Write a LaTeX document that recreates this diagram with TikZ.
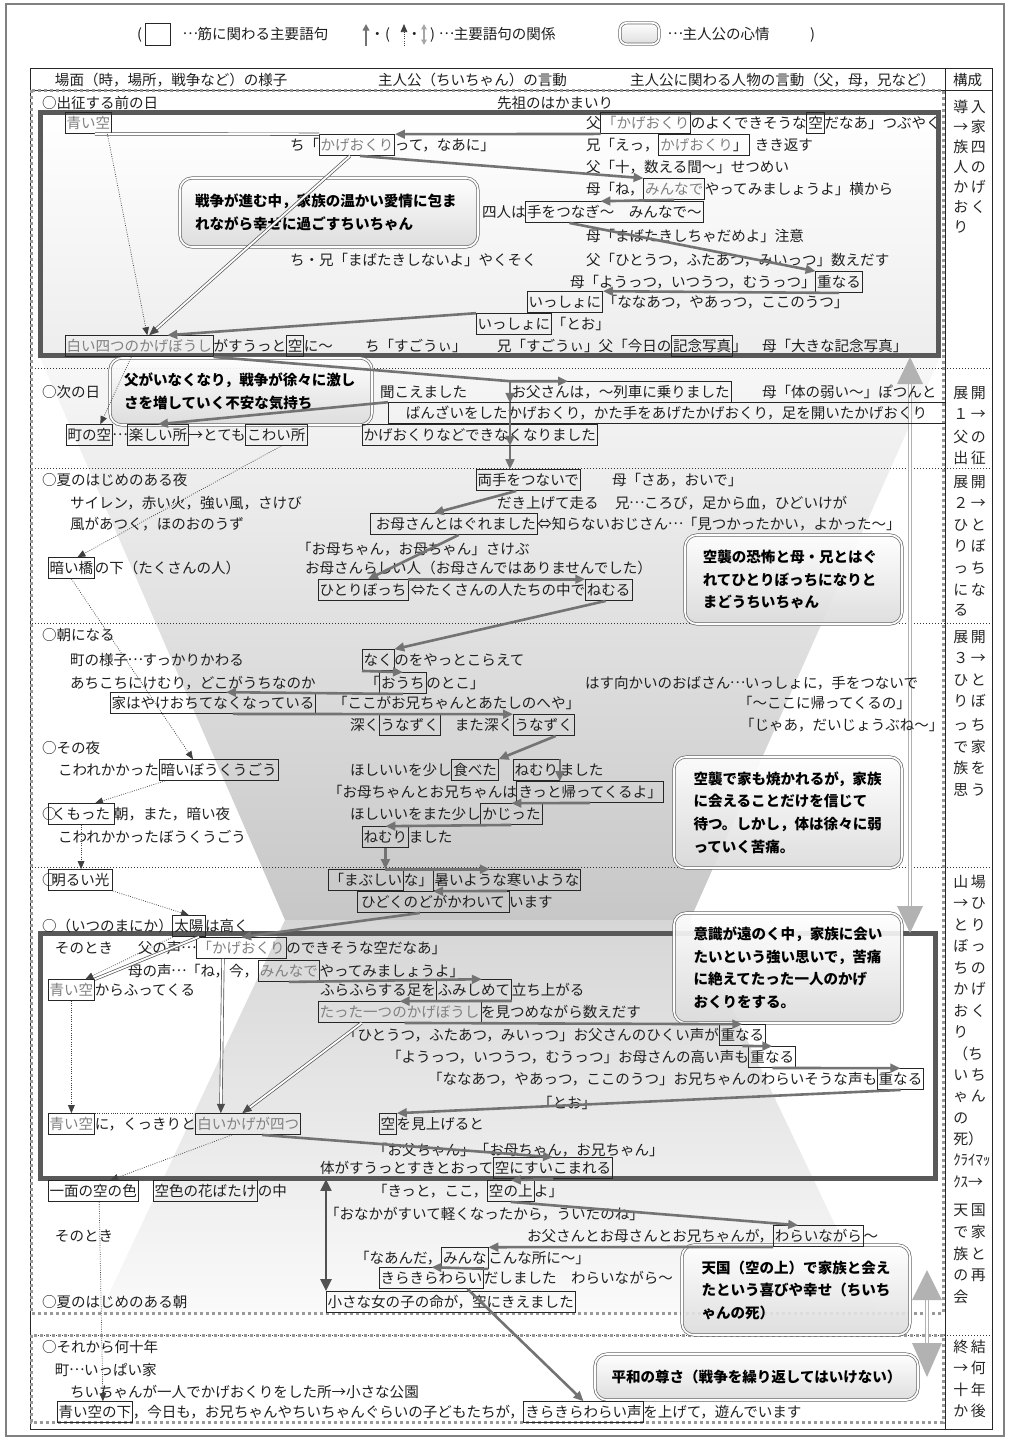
\documentclass[tikz,border=0pt]{standalone}
\usepackage{fontspec}
\setmainfont{Noto Sans CJK JP}
\usetikzlibrary{arrows.meta,calc}
\newcommand\myfs{\fontsize{10.9pt}{13pt}\selectfont}
\newcommand\gk[1]{\textcolor{black!50}{#1}}
\newcommand\rs{\hspace{2pt}}
\newcommand\el{\makebox[1em][c]{\raisebox{0.3em}{…}}}
\begin{document}
\begin{tikzpicture}[x=0.75pt,y=-0.75pt,
  tx/.style={inner xsep=0pt, inner ysep=2.25pt, outer sep=0pt, text height=9.6pt, text depth=2.2pt, anchor=base west, font=\myfs, text=black!88},
  kb/.style={tx, draw=black!85, line width=0.7pt, inner xsep=1.2pt},
  tha/.style={draw=black!55, line width=1.95pt, -{Triangle[length=7.5pt,width=6.5pt]}},
  thab/.style={draw=black!68, line width=2.2pt, {Triangle[length=9pt,width=8pt]}-{Triangle[length=9pt,width=8pt]}},
  dotl/.style={draw=black!75, line width=0.55pt, dash pattern=on 0.6pt off 1.1pt},
  dota/.style={dotl, -{Triangle[length=6pt,width=5pt]}},
  dbl/.style={draw=black!70, line width=0.5pt, double=white, double distance=1.4pt},
  dbla/.style={dbl, -{Triangle[length=7pt,width=6pt]}},
  callout/.style={draw=black!60, line width=0.5pt, double=white, double distance=1.3pt, rounded corners=9pt, top color=white, bottom color=black!14, fill opacity=0.9, text opacity=1, font=\fontsize{10.9pt}{16.9pt}\selectfont\bfseries, align=left, inner sep=0pt, text=black},
  rc/.style={anchor=base west, inner sep=0pt, font=\fontsize{11.2pt}{13pt}\selectfont, text=black!85},
]
\useasboundingbox (0,0) rectangle (1010,1440);
\fill[white] (0,0) rectangle (1010,1440);
\draw[black!50, line width=1.5pt] (6,4) rectangle (1004,1436);

% shadings
\shade[top color=white, bottom color=black!7] (40,112) rectangle (938,355);
\shade[top color=black!3, bottom color=black!22] (40,357) -- (940,357) -- (690,920) -- (285,920) -- cycle;
\shade[top color=black!16, bottom color=black!2] (285,920) -- (690,920) -- (877,1313) -- (100,1313) -- cycle;

% table
\draw[black!85, line width=0.75pt] (30,68) rectangle (992,1429);
\draw[black!85, line width=0.75pt] (945,68) -- (945,1429);
\draw[black!85, line width=0.75pt] (30,90) -- (992,90);
\foreach \yy in {368,468,623,867,1335} \draw[black!80, line width=0.6pt, dash pattern=on 0.75pt off 1.5pt] (32,\yy) -- (992,\yy);
\draw[black!40, line width=2.25pt, dash pattern=on 2.4pt off 2.1pt] (31,90) rectangle (943,1313);
\draw[black!40, line width=2.25pt, dash pattern=on 2.4pt off 2.1pt] (31,1335) rectangle (943,1422);
\draw[black!65, line width=3.75pt] (40,112) rectangle (938,355);
\draw[black!65, line width=3.75pt] (40,933) rectangle (935,1178);

% big light arrows
\coordinate (ba1) at (910,357); \coordinate (ba2) at (910,933);
\draw[black!30, line width=0.9pt, double=white, double distance=1.6pt] ($(ba1)+(0,25)$) -- ($(ba2)+(0,-25)$);
\fill[black!30] (ba1) -- ++(13,27) -- ++(-26,0) -- cycle;
\fill[black!30] (ba2) -- ++(13,-27) -- ++(-26,0) -- cycle;
\coordinate (bb1) at (927,1270); \coordinate (bb2) at (927,1377);
\draw[black!30, line width=0.9pt, double=white, double distance=1.6pt] ($(bb1)+(0,28)$) -- ($(bb2)+(0,-32)$);
\fill[black!30] (bb1) -- ++(15,30) -- ++(-30,0) -- cycle;
\fill[black!30] (bb2) -- ++(15,-34) -- ++(-30,0) -- cycle;

% callouts
\node[callout, minimum width=223.5pt, minimum height=51.75pt, text width=201pt] (cA) at (329,212.5) {戦争が進む中，家族の温かい愛情に包ま\\れながら幸せに過ごすちいちゃん};
\node[callout, minimum width=196.5pt, minimum height=50.25pt, text width=175.5pt] (cB) at (241,391.5) {父がいなくなり，戦争が徐々に激し\\さを増していく不安な気持ち};
\node[callout, minimum width=162.75pt, minimum height=66.75pt, text width=136pt] (cC) at (793.5,579.5) {空襲の恐怖と母・兄とはぐ\\れてひとりぼっちになりと\\まどうちいちゃん};
\node[callout, minimum width=171pt, minimum height=83.25pt, text width=141.75pt] (cD) at (788,812.5) {空襲で家も焼かれるが，家族\\に会えることだけを信じて\\待つ。しかし，体は徐々に弱\\っていく苦痛。};
\node[callout, minimum width=171pt, minimum height=82.5pt, text width=141.75pt] (cE) at (788,968) {意識が遠のく中，家族に会い\\たいという強い思いで，苦痛\\に絶えてたった一人のかげ\\おくりをする。};
\node[callout, minimum width=171pt, minimum height=67.5pt, text width=141.75pt] (cF) at (796,1290) {天国（空の上）で家族と会え\\たという喜びや幸せ（ちいち\\ゃんの死）};
\node[callout, minimum width=242.25pt, minimum height=34.5pt, align=center] (cG) at (756.5,1377) {平和の尊さ（戦争を繰り返してはいけない）};

% legend
\node[tx] (lg1) at (137,39) {(};
\node[draw=black!85, line width=0.7pt, minimum width=18.75pt, minimum height=16.5pt, inner sep=0pt] (lgb) at (157.5,34) {};
\node[tx] (lg2) at (183,39) {\el{}筋に関わる主要語句};
\draw[-{Triangle[length=5pt,width=5pt]}, black!55, line width=1.6pt] (366,46) -- (366,24);
\node[tx] (lg3) at (370,39) {・};
\node[tx] (lg4) at (385,39) {(};
\draw[dota] (404,46) -- (404,24);
\node[tx] (lg5) at (407,39) {・};
\draw[{Triangle[length=4pt,width=4pt]}-{Triangle[length=4pt,width=4pt]}, black!35, line width=1pt] (424,24) -- (424,45);
\node[tx] (lg6) at (430,39) {)\hspace{0.3em}\el{}主要語句の関係};
\node[callout, minimum width=29.25pt, minimum height=16pt, rounded corners=5pt] (lgc) at (639.5,33.5) {};
\node[tx] (lg7) at (668,39) {\el{}主人公の心情};
\node[tx] (lg8) at (810,39) {)};

% header
\node[tx] (h1) at (55,85) {場面（時，場所，戦争など）の様子};
\node[tx] (h2) at (378,85) {主人公（ちいちゃん）の言動};
\node[tx] (h3) at (630,85) {主人公に関わる人物の言動（父，母，兄など）};
\node[tx] (h4) at (953,85) {構成};

% right column
\foreach \t/\y [count=\i] in {導\rs{}入/107, →\rs{}家/127, 族\rs{}四/147, 人\rs{}の/167, か\rs{}げ/187, お\rs{}く/207, り/227,
  展\rs{}開/393, １\rs{}→/414, 父\rs{}の/437, 出\rs{}征/458,
  展\rs{}開/482, ２\rs{}→/503, ひ\rs{}と/525, り\rs{}ぼ/546, っ\rs{}ち/568, に\rs{}な/590, る/610,
  展\rs{}開/637, ３\rs{}→/658, ひ\rs{}と/680, り\rs{}ぼ/701, っ\rs{}ち/725, で\rs{}家/747, 族\rs{}を/768, 思\rs{}う/790,
  山\rs{}場/882, →\rs{}ひ/903, と\rs{}り/925, ぼ\rs{}っ/946, ち\rs{}の/968, か\rs{}げ/989, お\rs{}く/1011, り/1032, （ち/1054, い\rs{}ち/1075, ゃ\rs{}ん/1096, の/1118, 死）/1139, ｸﾗｲﾏｯ/1160, ｸｽ→/1182, 天\rs{}国/1210, で\rs{}家/1232, 族\rs{}と/1254, の\rs{}再/1275, 会/1297,
  終\rs{}結/1347, →\rs{}何/1368, 十\rs{}年/1390, か\rs{}後/1411}
  \node[rc] (rc\i) at (953,\y+5) {\t};

% ---------- section 1
\node[tx] (t1a) at (42,108) {○出征する前の日};
\node[tx] (t1b) at (497,108) {先祖のはかまいり};
\node[kb] (ao1) at (65,128) {\gk{青い空}};
\node[tx] (f1a) at (586,128) {父};
\node[kb] (f1k) at (f1a.base east) {\gk{「かげおくり}};
\node[tx] (f1b) at (f1k.base east) {のよくできそうな};
\node[kb] (f1s) at (f1b.base east) {空};
\node[tx] (f1c) at (f1s.base east) {だなあ」つぶやく};
\node[tx] (c1a) at (290,150) {ち「};
\node[kb] (c1k) at (c1a.base east) {\gk{かげおくり}};
\node[tx] (c1b) at (c1k.base east) {って，なあに」};
\node[tx] (b1a) at (586,150) {兄「えっ，};
\node[kb] (b1k) at (b1a.base east) {\gk{かげおくり}」};
\node[tx] (b1b) at (b1k.base east) {\hspace{0.4em}きき返す};
\node[tx] (f2) at (586,172) {父「十，数える間〜」せつめい};
\node[tx] (m1a) at (586,194) {母「ね，};
\node[kb] (m1k) at (m1a.base east) {\gk{みんなで}};
\node[tx] (m1b) at (m1k.base east) {やってみましょうよ」横から};
\node[tx] (y1a) at (482,217) {四人は};
\node[kb] (y1k) at (y1a.base east) {手をつなぎ〜　みんなで〜};
\node[tx] (m2) at (586,241) {母「まばたきしちゃだめよ」注意};
\node[tx] (c2) at (290,265) {ち・兄「まばたきしないよ」やくそく};
\node[tx] (f3) at (586,265) {父「ひとうつ，ふたあつ，みいっつ」数えだす};
\node[tx] (m3a) at (570,287) {母「ようっつ，いつうつ，むうっつ」};
\node[kb] (m3k) at (m3a.base east) {重なる};
\node[kb] (i1k) at (527,307) {いっしょに};
\node[tx] (i1b) at (i1k.base east) {「ななあつ，やあっつ，ここのうつ」};
\node[kb] (i2k) at (476,329) {いっしょに};
\node[tx] (i2b) at (i2k.base east) {「とお」};
\node[kb] (w1k) at (65,351) {\gk{白い四つのかげぼうし}};
\node[tx] (w1b) at (w1k.base east) {がすうっと};
\node[kb] (w1s) at (w1b.base east) {空};
\node[tx] (w1c) at (w1s.base east) {に〜};
\node[tx] (c3) at (365,351) {ち「すごうぃ」};
\node[tx] (k1a) at (497,351) {兄「すごうぃ」父「今日の};
\node[kb] (k1k) at (k1a.base east) {記念写真};
\node[tx] (k1b) at (k1k.base east) {」};
\node[tx] (m4) at (762,351) {母「大きな記念写真」};

% ---------- section 2
\node[tx] (t2a) at (42,397) {○次の日};
\node[tx] (t2b) at (380,397) {聞こえました};
\node[kb] (ofk) at (510,397) {お父さんは，〜列車に乗りました};
\node[tx] (t2c) at (762,397) {母「体の弱い〜」ぽつんと};
\node[kb, minimum width=417.75pt] (bzk) at (388,418) {ばんざいをしたかげおくり，かた手をあげたかげおくり，足を開いたかげおくり};
\node[kb] (mck) at (66,440) {町の空};
\node[tx] (t3a) at (mck.base east) {\el};
\node[kb] (tnk) at (t3a.base east) {楽しい所};
\node[tx] (t3b) at (tnk.base east) {→とても};
\node[kb] (kwk) at (t3b.base east) {こわい所};
\node[kb] (kgk) at (362,440) {かげおくりなどできなくなりました};

% ---------- section 3
\node[tx] (t4a) at (42,485) {○夏のはじめのある夜};
\node[kb] (rtk) at (476,485) {両手をつないで\hspace{0.8em}};
\node[tx] (t4b) at (612,485) {母「さあ，おいで」};
\node[tx] (t5a) at (70,508) {サイレン，赤い火，強い風，さけび};
\node[tx] (t5b) at (497,508) {だき上げて走る};
\node[tx] (t5c) at (615,508) {兄\el{}ころび，足から血，ひどいけが};
\node[tx] (t6a) at (70,529) {風があつく，ほのおのうず};
\node[kb] (ohk) at (370,529) {\hspace{0.3em}お母さんとはぐれました\hspace{0.7em}};
\node[tx] (t6b) at (ohk.base east) {⇔知らないおじさん\el{}「見つかったかい，よかった〜」};
\node[tx] (t7) at (297,554) {「お母ちゃん，お母ちゃん」さけぶ};
\node[kb] (kbk) at (48,573) {暗い橋};
\node[tx] (t8a) at (kbk.base east) {の下（たくさんの人）};
\node[tx] (t8b) at (305,573) {お母さんらしい人（お母さんではありませんでした）};
\node[kb] (hitk) at (318,595) {ひとりぼっち\hspace{0.3em}};
\node[tx] (t9a) at (hitk.base east) {\hspace{0.2em}⇔たくさんの人たちの中で};
\node[kb] (nmk) at (t9a.base east) {ねむる\hspace{0.8em}};

% ---------- section 4
\node[tx] (t10) at (42,640) {○朝になる};
\node[tx] (t11a) at (70,665) {町の様子\el{}すっかりかわる};
\node[kb] (nkk) at (362,665) {なく};
\node[tx] (t11b) at (nkk.base east) {のをやっとこらえて};
\node[tx] (t12a) at (70,688) {あちこちにけむり，どこがうちなのか};
\node[tx] (t12b) at (365,688) {「};
\node[kb] (ouk) at (t12b.base east) {おうち};
\node[tx] (t12c) at (ouk.base east) {のとこ」};
\node[tx] (t12d) at (585,688) {はす向かいのおばさん\el{}いっしょに，手をつないで};
\node[kb] (iek) at (110,708) {家はやけおちてなくなっている};
\node[tx] (t13a) at (333,708) {「ここがお兄ちゃんとあたしのへや」};
\node[tx] (t13b) at (738,708) {「〜ここに帰ってくるの」};
\node[tx] (t14a) at (350,730) {深く};
\node[kb] (un1) at (t14a.base east) {うなずく};
\node[tx] (t14b) at (un1.base east) {　また深く};
\node[kb] (un2) at (t14b.base east) {うなずく};
\node[tx] (t14c) at (740,730) {「じゃあ，だいじょうぶね〜」};
\node[tx] (t15) at (42,753) {○その夜};
\node[tx] (t16a) at (58,775) {こわれかかった};
\node[kb] (kbo) at (t16a.base east) {暗いぼうくうごう};
\node[tx] (t16b) at (350,775) {ほしいいを少し};
\node[kb] (tbk) at (t16b.base east) {食べた};
\node[tx] (t16c) at (tbk.base east) {　};
\node[kb] (nm2) at (t16c.base east) {ねむり};
\node[tx] (t16d) at (nm2.base east) {ました};
\node[tx] (t17a) at (328,797) {「お母ちゃんとお兄ちゃんは};
\node[kb] (kik) at (t17a.base east) {きっと帰ってくるよ」};
\node[tx] (t18a) at (42,819) {○};
\node[kb, inner xsep=3pt] (kmk) at (48,819) {くもった};
\node[tx] (t18b) at (kmk.base east) {朝，また，暗い夜};
\node[tx] (t18c) at (350,819) {ほしいいをまた少し};
\node[kb] (kjk) at (t18c.base east) {かじった};
\node[tx] (t19a) at (58,842) {こわれかかったぼうくうごう};
\node[kb] (nm3) at (362,842) {ねむり};
\node[tx] (t19b) at (nm3.base east) {ました};

% ---------- section 5
\node[tx] (t20a) at (42,885) {○};
\node[kb, inner xsep=2.5pt] (akk) at (48,885) {明るい光};
\node[kb] (mbk) at (328,885) {「まぶしい};
\node[tx] (t20b) at (mbk.base east) {な」};
\node[kb] (atk) at (433,885) {暑いような寒いような};
\node[kb, inner xsep=3pt] (hdk) at (357,907) {ひどくのどがかわいて};
\node[tx] (t21) at (hdk.base east) {います};
\node[tx] (t22a) at (42,931) {○（いつのまにか）};
\node[kb] (tyk) at (t22a.base east) {太陽};
\node[tx] (t22b) at (tyk.base east) {は高く};
\node[tx] (t23a) at (55,953) {そのとき\hspace{1.7em}父の声\el};
\node[kb] (kgk2) at (t23a.base east) {\gk{「かげおくり}};
\node[tx] (t23b) at (kgk2.base east) {のできそうな空だなあ」};
\node[tx] (t24a) at (128,976) {母の声\el{}「ね，今，};
\node[kb] (mk2) at (t24a.base east) {\gk{みんなで}};
\node[tx] (t24b) at (mk2.base east) {やってみましょうよ」};
\node[kb] (ao2) at (48,995) {\gk{青い空}};
\node[tx] (t25a) at (ao2.base east) {からふってくる};
\node[tx] (t25b) at (320,995) {ふらふらする足を};
\node[kb] (fmk) at (t25b.base east) {ふみしめて};
\node[tx] (t25c) at (fmk.base east) {立ち上がる};
\node[kb] (ttk) at (318,1017) {\gk{たった一つのかげぼうし}};
\node[tx] (t26) at (ttk.base east) {を見つめながら数えだす};
\node[tx] (t27) at (343,1040) {「ひとうつ，ふたあつ，みいっつ」お父さんのひくい声が};
\node[kb] (kk1) at (t27.base east) {重なる};
\node[tx] (t28) at (387,1062) {「ようっつ，いつうつ，むうっつ」お母さんの高い声も};
\node[kb] (kk2) at (t28.base east) {重なる};
\node[tx] (t29) at (428,1084) {「ななあつ，やあっつ，ここのうつ」お兄ちゃんのわらいそうな声も};
\node[kb] (kk3) at (t29.base east) {重なる\hspace{0.5em}};
\node[tx] (t30) at (538,1108) {「とお」};
\node[kb] (ao3) at (48,1129) {\gk{青い空}};
\node[tx] (t31a) at (ao3.base east) {に，くっきりと};
\node[kb] (sk4) at (t31a.base east) {\gk{白いかげが四つ}\hspace{0.5em}};
\node[kb] (sr1) at (379,1129) {空};
\node[tx] (t31b) at (sr1.base east) {を見上げると};
\node[tx] (t32) at (373,1155) {「お父ちゃん」「お母ちゃん，お兄ちゃん」};
\node[tx] (tgs) at (320,1173) {体がすうっとすきとおって};
\node[kb] (sck) at (tgs.base east) {空にすいこまれる\hspace{0.5em}};
\node[kb] (ich) at (48,1196) {一面の空の色\hspace{0.3em}};
\node[kb] (shb) at (153,1196) {空色の花ばたけ};
\node[tx] (t33a) at (shb.base east) {の中};
\node[tx] (t33b) at (373,1196) {「きっと，ここ，};
\node[kb] (snu) at (t33b.base east) {空の上};
\node[tx] (t33c) at (snu.base east) {よ」};
\node[tx] (t34) at (325,1219) {「おなかがすいて軽くなったから，ういたのね」};
\node[tx] (t35a) at (55,1241) {そのとき};
\node[tx] (t35b) at (527,1241) {お父さんとお母さんとお兄ちゃんが，};
\node[kb] (wrk) at (t35b.base east) {わらいながら};
\node[tx] (t35c) at (wrk.base east) {〜};
\node[tx] (t36a) at (355,1263) {「なあんだ，};
\node[kb] (mnk) at (t36a.base east) {みんな};
\node[tx] (t36b) at (mnk.base east) {こんな所に〜」};
\node[kb] (krk) at (379,1283) {きらきらわらい};
\node[tx] (t37) at (krk.base east) {だしました　わらいながら〜};
\node[tx] (t38a) at (42,1307) {○夏のはじめのある朝};
\node[kb] (chk) at (326,1307) {小さな女の子の命が，空にきえました\hspace{1em}};

% ---------- section 6
\node[tx] (t39) at (42,1352) {○それから何十年};
\node[tx] (t40) at (55,1375) {町\el{}いっぱい家};
\node[tx] (t41) at (70,1397) {ちいちゃんが一人でかげおくりをした所→小さな公園};
\node[kb] (ask) at (57,1417) {青い空の下};
\node[tx] (t42a) at (ask.base east) {，今日も，お兄ちゃんやちいちゃんぐらいの子どもたちが，};
\node[kb] (kkw) at (t42a.base east) {きらきらわらい声};
\node[tx] (t42b) at (kkw.base east) {を上げて，遊んでいます};

% ---------- connectors section 1
\draw[tha] (f1k.south west) -- (c1k.north east);
\draw[dbl] ($(ao1.south east)+(-17,0)$) -- (c1k.north west);
\draw[tha] ($(c1k.south)+(3,0)$) -- (m1k.north west);
\draw[tha] (m1k.south) -- ($(y1k.north)+(-14,0)$);
\draw[tha] ($(y1k.south)+(-45,0)$) -- (m3k.north west);
\draw[tha] (m3k.south) -- (i1k.north east);
\draw[tha] (i2k.north west) -- ($(w1k.north)+(28,0)$);
\draw[dbla] ($(c1k.south)+(-7,0)$) -- ($(w1k.north)+(10,0)$);
\draw[dota] ($(ao1.south)+(19,0)$) -- ($(w1k.north)+(8,0)$);
% section 2
\draw[tha] (w1k.south east) -- (ofk.north west) -- ($(ofk.north west)+(58,0)$);
\draw[tha] (ofk.north west) -- (ofk.south west);
\draw[tha] (ofk.south west) -- (ofk.south west |- kgk.south);
\draw[tha] (ofk.south west |- kgk.south) -- (ofk.south west |- rtk.north);
\draw[tha] (bzk.north west) -- (tnk.north);
\draw[dota] ($(w1k.south)+(-8,0)$) -- ($(mck.north)+(11,0)$);
% section 3
\draw[dota] ($(kwk.south)+(5,0)$) -- ($(kbk.north)+(6,0)$);
\draw[tha] ($(rtk.south)+(-12,0)$) -- ($(ohk.north)+(-20,0)$);
\draw[tha] ($(ohk.south)+(5,0)$) -- ($(hitk.north)+(5,0)$);
\draw[tha] (hitk.north east) -- (nmk.north west);
\draw[tha] ($(nmk.south)+(-3,0)$) -- (nkk.north east);
% section 4
\draw[tha] (nkk.south west) -- (ouk.north);
\draw[tha] (ouk.south) -- ($(iek.north)+(13,0)$);
\draw[tha] ($(iek.south)+(20,0)$) -- (un2.north west);
\draw[tha] ($(un2.south)+(12,0)$) -- (tbk.north east);
\draw[tha] (nm2.north east) -- (nm2.north east |- kik.north);
\draw[tha] (kik.south) -- (kjk.north);
\draw[tha] (kjk.south) -- (nm3.north);
\draw[tha] (nm3.south) -- (nm3.south |- mbk.north);
\draw[tha] (nm3.south |- mbk.north) -- ($(atk.north)+(-17,0)$);
\draw[tha] (atk.south) -- (hdk.north);
\draw[tha] ($(hdk.south)+(-13,0)$) -- (kgk2.north);
\draw[dota] (akk.south east) -- (tyk.north);
\draw[dota] ($(kbo.south west)+(6,0)$) -- ($(kmk.north)+(14,0)$);
\draw[dota] (kmk.south) -- (kmk.south |- akk.north);
\draw[dota] (kbk.south) -- ($(kbo.north west)+(34,0)$);
% section 5
\draw[dbl] ($(tyk.south)+(10,0)$) -- (ao2.north east);
\draw[dota] (tyk.south west) -- ($(ao2.north)+(14,0)$);
\draw[dbla] ($(kgk2.south west)+(27,0)$) -- ($(sk4.north west)+(25,0)$);
\draw[dota] (ao2.south) -- (ao3.north);
\draw[dotl] (ao3.north east) -- (sk4.north west);
\draw[tha] (mk2.south) -- ($(fmk.north)+(8,0)$);
\draw[tha] (fmk.south east) -- (ttk.north);
\draw[dbla] ($(ttk.south)+(-38,0)$) -- ($(sk4.north)+(-6,0)$);
\draw[tha] ($(ttk.south)+(5,0)$) -- (kk1.north);
\draw[tha] (kk1.south) -- (kk2.north);
\draw[tha] (kk2.south) -- (kk3.north);
\draw[tha] (kk3.south) -- (sr1.north east);
\draw[tha] ($(sk4.south)+(14,0)$) -- (sck.north);
\draw[dota] ($(sk4.south west)+(36,0)$) -- ($(ich.north)+(17,0)$);
\draw[tha] (sck.south) -- (snu.north);
\draw[thab] (chk.north west |- tgs.south) -- (chk.north west);
\draw[tha] (snu.south) -- ($(wrk.north west)+(25,0)$);
\draw[tha] (wrk.south west) -- (mnk.north east);
\draw[tha] (mnk.south east) -- (krk.north);
\draw[tha] ($(krk.south)+(36,0)$) -- (kkw.north);
\draw[dota] ($(ich.south)+(6,0)$) -- ($(ask.north)+(8,0)$);
\end{tikzpicture}
\end{document}
